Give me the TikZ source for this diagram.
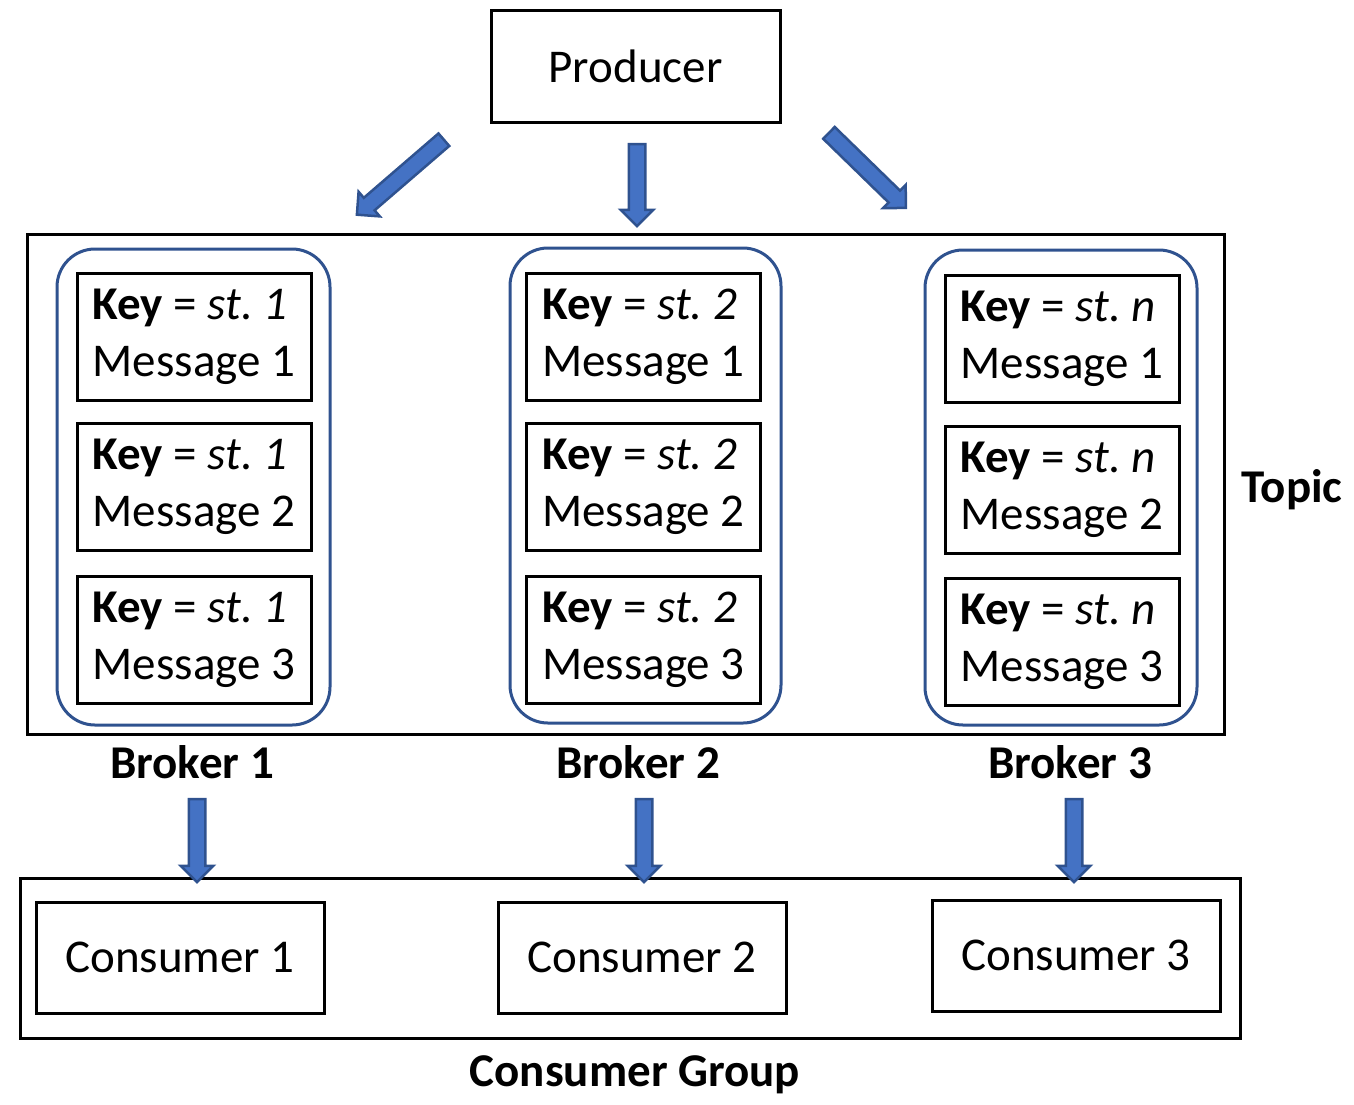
\documentclass[tikz,border=0pt]{standalone}
\usepackage{fontspec}
\setmainfont{Carlito}
\usetikzlibrary{shapes.arrows, calc}

\definecolor{arrowfill}{HTML}{4472C4}
\definecolor{arrowedge}{HTML}{2F528F}

% block arrow from one named coordinate to another
\newcommand\blockarrow[2]{%
    \path let \p1=($(#2)-(#1)$), \n1={veclen(\x1,\y1)} in
        (#1) -- node[big arrow, sloped, allow upside down, minimum height=\n1] {} (#2);}

\begin{document}
\begin{tikzpicture}[x=1pt, y=-1pt]
        \tikzset{
            box text/.style={font=\fontsize{47}{57}\selectfont},
            plain box/.style={draw=black, line width=3pt, inner sep=0pt, box text},
            msg box/.style={
                    plain box, minimum height=127pt, minimum width=234pt, align=left
                },
            broker box/.style={draw=arrowedge, line width=3pt, rounded corners=38pt, inner sep=0pt},
            bold label/.style={font=\fontsize{47}{57}\selectfont\bfseries},
            big arrow/.style={
                    single arrow, draw=arrowedge, fill=arrowfill, line width=2.5pt,
                    inner sep=7pt, single arrow head extend=8pt, single arrow head indent=0pt
                }
        }
        \useasboundingbox (0,0) rectangle (1354,1104);

        \node[plain box, minimum width=289pt, minimum height=112pt] (producer) at (635.5,66) {Producer};

        \node[plain box, minimum width=1197pt, minimum height=500pt] (topic) at (625.5,484) {};
        \node[bold label] (topiclabel) at (1292,490) {Topic};

        \node[broker box, minimum width=273pt, minimum height=476pt] (b1) at (193.5,487) {};
        \node[broker box, minimum width=271pt, minimum height=475pt] (b2) at (645.5,485.5) {};
        \node[broker box, minimum width=272pt, minimum height=475pt] (b3) at (1061,487.5) {};

        \foreach \b/\bx/\dy/\st in {1/194/0/1, 2/643.5/0/2, 3/1062/2.5/n} {
            \foreach \m/\my in {1/336.5, 2/487, 3/639.5} {
                \node[msg box] (m\b\m) at (\bx,\my+\dy) {\textbf{Key} = \textit{st.\ \st}\\Message \m};
            }
        }

        \node[bold label] (bl1) at (192,762) {Broker 1};
        \node[bold label] (bl2) at (638,762) {Broker 2};
        \node[bold label] (bl3) at (1070,762) {Broker 3};

        \node[plain box, minimum width=1220pt, minimum height=160pt] (group) at (630,958) {};
        \node[plain box, minimum width=288pt, minimum height=111pt] (c1) at (180,957.5) {Consumer 1};
        \node[plain box, minimum width=288pt, minimum height=111pt] (c2) at (642,957.5) {Consumer 2};
        \node[plain box, minimum width=288pt, minimum height=111pt] (c3) at (1076,955.5) {Consumer 3};
        \node[bold label] (grouplabel) at (635,1075) {Consumer Group};

        % arrow ends
        \coordinate (ps1) at (447,137);
        \coordinate (pe1) at (360,212);
        \coordinate (ps2) at (637,140);
        \coordinate (pe2) at (637,222);
        \coordinate (ps3) at (826,130);
        \coordinate (pe3) at (903,205);
        \coordinate (cs1) at (197,795);
        \coordinate (ce1) at (197,878);
        \coordinate (cs2) at (644,795);
        \coordinate (ce2) at (644,878);
        \coordinate (cs3) at (1074,795);
        \coordinate (ce3) at (1074,878);

        \blockarrow{ps1}{pe1}
        \blockarrow{ps2}{pe2}
        \blockarrow{ps3}{pe3}
        \blockarrow{cs1}{ce1}
        \blockarrow{cs2}{ce2}
        \blockarrow{cs3}{ce3}
    \end{tikzpicture}
\end{document}
